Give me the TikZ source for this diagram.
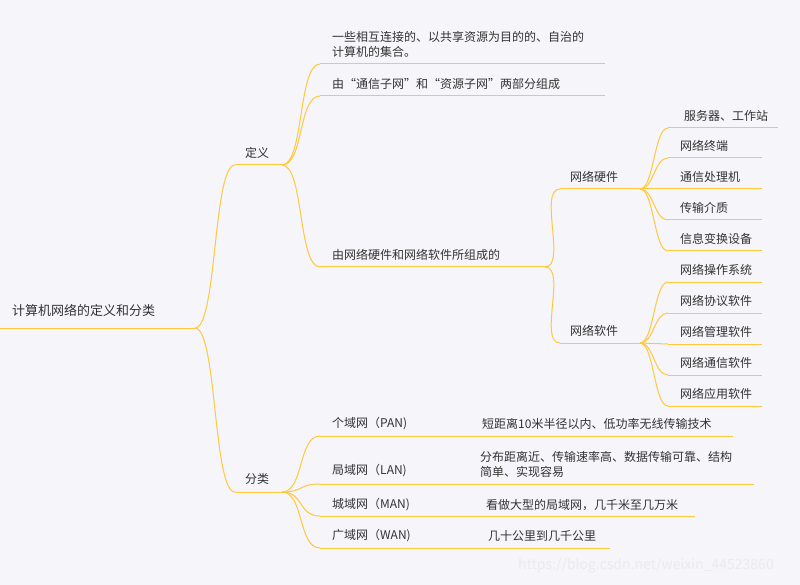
\documentclass[tikz,border=0pt]{standalone}
\usepackage{fontspec}
\usetikzlibrary{calc}
\setmainfont{Noto Sans CJK SC}
\definecolor{bg}{HTML}{F5F5FA}
\definecolor{ln}{HTML}{FFC83D}
\definecolor{tx}{HTML}{333333}
\begin{document}
\begin{tikzpicture}[x=1pt,y=-1pt,
  t/.style={anchor=west,inner sep=0pt,text=tx,font=\fontsize{12}{15}\selectfont},
  ul/.style={draw=ln,line width=1pt},
  cn/.style={draw=ln,line width=1pt}]
\fill[bg] (0,0) rectangle (800,585);
\useasboundingbox (0,0) rectangle (800,585);
\newcommand{\lnk}[2]{\draw[cn] (#1) .. controls ($(#1)+(22,0)$) and ($(#2)+(-22,0)$) .. (#2);}
% underline coordinates
\coordinate (rootL) at (0,328); \coordinate (rootR) at (195,328);
\coordinate (dyL) at (235,165); \coordinate (dyR) at (282,165);
\coordinate (flL) at (235,492); \coordinate (flR) at (282,492);
\coordinate (d1L) at (320,64); \coordinate (d1R) at (605,64);
\coordinate (d2L) at (320,96); \coordinate (d2R) at (605,96);
\coordinate (d3L) at (320,267); \coordinate (d3R) at (545,267);
\coordinate (hwL) at (560,189); \coordinate (hwR) at (640,189);
\coordinate (swL) at (560,343); \coordinate (swR) at (640,343);
\coordinate (h1L) at (668,128); \coordinate (h1R) at (778,128);
\coordinate (h2L) at (668,158); \coordinate (h2R) at (762,158);
\coordinate (h3L) at (668,189); \coordinate (h3R) at (762,189);
\coordinate (h4L) at (668,220); \coordinate (h4R) at (762,220);
\coordinate (h5L) at (668,251); \coordinate (h5R) at (762,251);
\coordinate (s1L) at (668,282); \coordinate (s1R) at (762,282);
\coordinate (s2L) at (668,313); \coordinate (s2R) at (762,313);
\coordinate (s3L) at (668,344); \coordinate (s3R) at (762,344);
\coordinate (s4L) at (668,375); \coordinate (s4R) at (762,375);
\coordinate (s5L) at (668,406); \coordinate (s5R) at (762,406);
\coordinate (c1L) at (320,436); \coordinate (c1R) at (733,436);
\coordinate (c2L) at (320,484); \coordinate (c2R) at (754,484);
\coordinate (c3L) at (320,516); \coordinate (c3R) at (695,516);
\coordinate (c4L) at (320,548); \coordinate (c4R) at (610,548);
\foreach \n in {root,dy,fl,d1,d2,d3,hw,sw,h1,h2,h3,h4,h5,s1,s2,s3,s4,s5,c1,c2,c3,c4}
  \draw[ul] (\n L) -- (\n R);
\lnk{rootR}{dyL} \lnk{rootR}{flL}
\lnk{dyR}{d1L} \lnk{dyR}{d2L} \lnk{dyR}{d3L}
\lnk{d3R}{hwL} \lnk{d3R}{swL}
\foreach \c in {h1,h2,h3,h4,h5} {\draw[cn] (hwR) .. controls ($(hwR)+(14,0)$) and ($(\c L)+(-14,0)$) .. (\c L);}
\foreach \c in {s1,s2,s3,s4,s5} {\draw[cn] (swR) .. controls ($(swR)+(14,0)$) and ($(\c L)+(-14,0)$) .. (\c L);}
\foreach \c in {c1,c2,c3,c4} {\draw[cn] (flR) .. controls ($(flR)+(22,0)$) and ($(\c L)+(-22,0)$) .. (\c L);}
% texts
\node[t,font=\fontsize{13}{15}\selectfont] (root) at (12,310) {计算机网络的定义和分类};
\node[t] (dy) at (245,153) {定义};
\node[t] (fl) at (245,479) {分类};
\node[t,align=left] (d1) at (332,44) {一些相互连接的、以共享资源为目的的、自治的\\计算机的集合。};
\node[t] (d2) at (332,84) {由“通信子网”和“资源子网”两部分组成};
\node[t] (d3) at (332,255) {由网络硬件和网络软件所组成的};
\node[t] (hw) at (570,177) {网络硬件};
\node[t] (sw) at (570,331) {网络软件};
\node[t] (h1) at (684,116) {服务器、工作站};
\node[t] (h2) at (680,146) {网络终端};
\node[t] (h3) at (680,177) {通信处理机};
\node[t] (h4) at (680,208) {传输介质};
\node[t] (h5) at (680,239) {信息变换设备};
\node[t] (s1) at (680,270) {网络操作系统};
\node[t] (s2) at (680,301) {网络协议软件};
\node[t] (s3) at (680,332) {网络管理软件};
\node[t] (s4) at (680,363) {网络通信软件};
\node[t] (s5) at (680,394) {网络应用软件};
\node[t] (c1) at (332,424) {个域网（PAN)};
\node[t] (c1d) at (482,424) {短距离10米半径以内、低功率无线传输技术};
\node[t] (c2) at (332,471) {局域网（LAN)};
\node[t,align=left] (c2d) at (480,464) {分布距离近、传输速率高、数据传输可靠、结构\\简单、实现容易};
\node[t] (c3) at (332,505) {城域网（MAN)};
\node[t] (c3d) at (486,505) {看做大型的局域网，几千米至几万米};
\node[t] (c4) at (332,536) {广域网（WAN)};
\node[t] (c4d) at (488,536) {几十公里到几千公里};
\node[anchor=west,inner sep=0pt,text=white!85!gray,font=\fontsize{14}{16}\selectfont] (wm) at (518,566) {https://blog.csdn.net/weixin\_44523860};
\end{tikzpicture}
\end{document}
